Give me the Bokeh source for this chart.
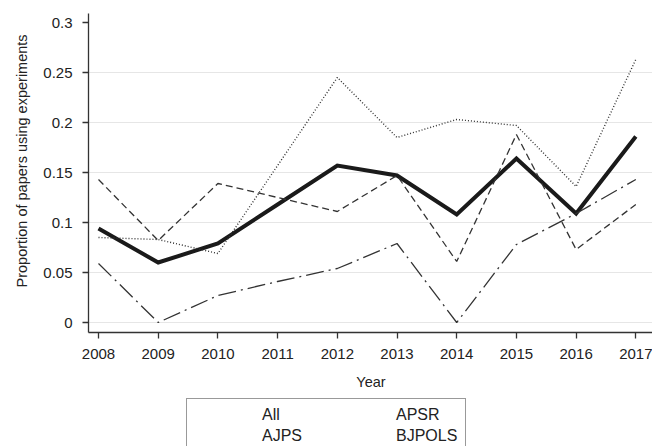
from bokeh.plotting import figure
from bokeh.layouts import column
from bokeh.models import Legend, LegendItem, FixedTicker, Range1d, Title
from bokeh.embed import file_html
from bokeh.resources import INLINE

years = [2008, 2009, 2010, 2011, 2012, 2013, 2014, 2015, 2016, 2017]
all_vals = [0.094, 0.060, 0.079, 0.118, 0.157, 0.147, 0.108, 0.164, 0.109, 0.186]
ajps_vals = [0.085, 0.083, 0.069, 0.157, 0.245, 0.185, 0.203, 0.197, 0.136, 0.263]
apsr_vals = [0.143, 0.082, 0.139, 0.125, 0.111, 0.147, 0.061, 0.188, 0.073, 0.118]
bjpols_vals = [0.059, 0.000, 0.027, 0.041, 0.054, 0.079, 0.000, 0.078, 0.109, 0.143]

y_ticks = [0, 0.05, 0.1, 0.15, 0.2, 0.25, 0.3]
y_tick_labels = ["0", "0.05", "0.1", "0.15", "0.2", "0.25", "0.3"]
grid_ticks = [0, 0.05, 0.1, 0.15, 0.2, 0.25]
x_title = "Year"
y_title = "Proportion of papers using experiments"

FONT = "Liberation Sans"
INK = "#222222"

STYLES = {
    "All": dict(line_color="#1a1a1a", line_width=4),
    "AJPS": dict(line_color="#333333", line_width=1.4, line_dash="1 2"),
    "APSR": dict(line_color="#333333", line_width=1.3, line_dash="7 4"),
    "BJPOLS": dict(line_color="#333333", line_width=1.3, line_dash="18 5 2 5"),
}

p = figure(
    frame_width=565, frame_height=319,
    min_border_left=86, min_border_right=1, min_border_top=13, min_border_bottom=65,
    x_range=Range1d(2007.8325, 2017.296), y_range=Range1d(-0.010, 0.309),
    output_backend="svg", toolbar_location=None,
    background_fill_color="white", border_fill_color="white",
)
p.outline_line_color = None
p.xgrid.grid_line_color = None
p.ygrid.ticker = FixedTicker(ticks=grid_ticks)
p.ygrid.grid_line_color = "#e6e6e6"
p.ygrid.grid_line_width = 1.2

for ax in (p.xaxis[0], p.yaxis[0]):
    ax.axis_line_color = "#333333"
    ax.axis_line_width = 1.3
    ax.major_tick_line_color = "#333333"
    ax.major_tick_line_width = 1.3
    ax.major_tick_out = 6
    ax.major_tick_in = 0
    ax.minor_tick_line_color = None
    ax.major_label_text_font = FONT
    ax.major_label_text_font_size = "15px"
    ax.major_label_text_color = INK

p.xaxis.ticker = FixedTicker(ticks=years)
p.xaxis.major_label_standoff = 10
p.xaxis.axis_label = x_title
p.xaxis.axis_label_text_font = FONT
p.xaxis.axis_label_text_font_size = "14.5px"
p.xaxis.axis_label_text_font_style = "normal"
p.xaxis.axis_label_text_color = INK
p.xaxis.axis_label_standoff = 12

p.yaxis.ticker = FixedTicker(ticks=y_ticks)
p.yaxis.major_label_overrides = {t: s for t, s in zip(y_ticks, y_tick_labels)}
p.yaxis.major_label_orientation = "horizontal"
p.yaxis.major_label_standoff = 10

# y title as a side title, anchored from the bottom so it sits above frame centre
p.add_layout(Title(text=y_title, align="left", offset=45, standoff=22,
                   text_font=FONT, text_font_size="14.5px", text_font_style="normal",
                   text_color=INK), "left")

p.line(years, all_vals, line_join="miter", **STYLES["All"])
p.line(years, ajps_vals, **STYLES["AJPS"])
p.line(years, apsr_vals, **STYLES["APSR"])
p.line(years, bjpols_vals, **STYLES["BJPOLS"])

# legend strip below the chart (its own small figure, keys only)
lg = figure(
    frame_width=565, frame_height=49,
    min_border_left=86, min_border_right=1, min_border_top=0, min_border_bottom=0,
    x_range=Range1d(0, 1), y_range=Range1d(0, 1),
    x_axis_location=None, y_axis_location=None,
    output_backend="svg", toolbar_location=None,
    background_fill_color="white", border_fill_color="white",
)
lg.outline_line_color = None
lg.xgrid.visible = False
lg.ygrid.visible = False
keys = {name: lg.line([], [], **style) for name, style in STYLES.items()}

legend = Legend(
    items=[LegendItem(label="All", renderers=[keys["All"]]),
           LegendItem(label="APSR", renderers=[keys["APSR"]]),
           LegendItem(label="AJPS", renderers=[keys["AJPS"]]),
           LegendItem(label="BJPOLS", renderers=[keys["BJPOLS"]])],
    orientation="horizontal", ncols=2,
    location="top_center",
    glyph_width=60, glyph_height=19, label_height=19, label_width=63, label_standoff=9,
    spacing=2, padding=6, margin=1,
    label_text_font=FONT, label_text_font_size="16px", label_text_color=INK,
    border_line_color="#333333", border_line_width=1.2,
    background_fill_color="white", background_fill_alpha=1,
)
lg.add_layout(legend, "center")

layout = column(p, lg, spacing=0)
open("out.html", "w").write(file_html(layout, INLINE))
